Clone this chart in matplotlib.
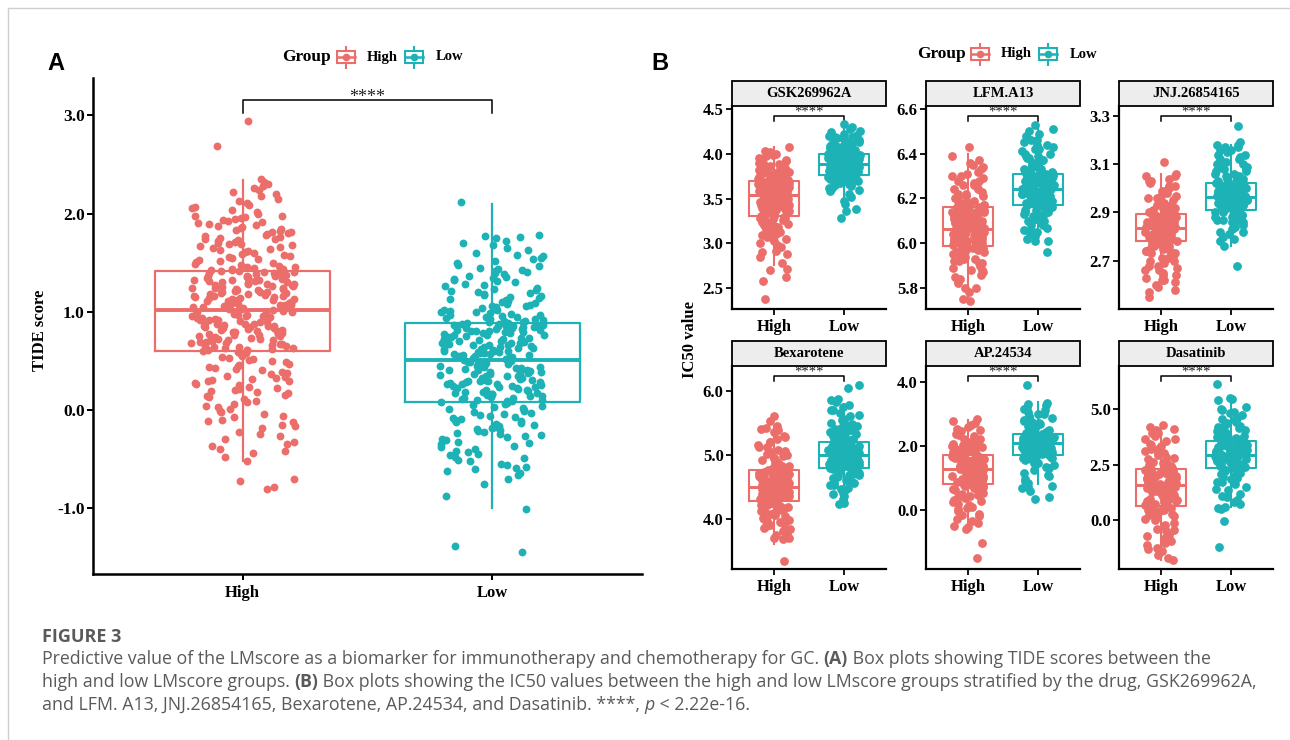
import numpy as np
import matplotlib
matplotlib.use("Agg")
import matplotlib.pyplot as plt
import matplotlib.transforms as mtransforms
from matplotlib.patches import Rectangle
from matplotlib.lines import Line2D

HIGH_COL = "#EC6E6B"
LOW_COL = "#1DB3B6"
SERIF = ["Liberation Serif", "DejaVu Serif"]
CAP_FONT = ["Open Sans", "DejaVu Sans"]
CAP_COL = "#5a5a5a"

groups = ["High", "Low"]

# ---------- panel A: TIDE score ----------
tide_high = [
    2.94, 2.69, 2.35, 2.32, 2.28, 2.26, 2.22, 2.20, 2.13, 2.11, 2.06, 2.04, 2.02, 1.97, 1.95, 1.93,
    1.91, 1.89, 1.87, 1.85, 1.83, 1.82, 1.80, 1.79, 1.78, 1.76, 1.75, 1.73, 1.72, 1.71, 1.69, 1.68,
    1.66, 1.65, 1.64, 1.62, 1.61, 1.60, 1.58, 1.57, 1.56, 1.55, 1.53, 1.52, 1.51, 1.50, 1.48, 1.47,
    1.46, 1.45, 1.44, 1.43, 1.42, 1.41, 1.40, 1.40, 1.39, 1.38, 1.37, 1.36, 1.36, 1.35, 1.34, 1.33,
    1.32, 1.32, 1.31, 1.30, 1.29, 1.28, 1.28, 1.27, 1.26, 1.25, 1.24, 1.24, 1.23, 1.22, 1.21, 1.20,
    1.20, 1.19, 1.18, 1.17, 1.16, 1.16, 1.15, 1.14, 1.13, 1.12, 1.12, 1.11, 1.10, 1.09, 1.08, 1.08,
    1.07, 1.06, 1.05, 1.04, 1.04, 1.03, 1.01, 1.00, 0.99, 0.98, 0.97, 0.97, 0.96, 0.95, 0.94, 0.93,
    0.92, 0.91, 0.90, 0.89, 0.88, 0.87, 0.86, 0.85, 0.84, 0.83, 0.82, 0.81, 0.80, 0.79, 0.78, 0.77,
    0.76, 0.75, 0.74, 0.73, 0.72, 0.71, 0.70, 0.69, 0.68, 0.67, 0.66, 0.65, 0.64, 0.63, 0.62, 0.61,
    0.61, 0.60, 0.59, 0.57, 0.55, 0.53, 0.51, 0.49, 0.47, 0.45, 0.43, 0.41, 0.39, 0.37, 0.35, 0.33,
    0.31, 0.29, 0.27, 0.25, 0.23, 0.21, 0.19, 0.17, 0.15, 0.13, 0.11, 0.08, 0.06, 0.03, 0.01, -0.02,
    -0.04, -0.07, -0.10, -0.12, -0.15, -0.18, -0.22, -0.26, -0.30, -0.33, -0.37, -0.40, -0.44, -0.48,
    -0.52, -0.70, -0.72, -0.78, -0.80,
    2.30, 2.24, 2.18, 2.15, 2.09, 2.07, 2.00, 1.98, 1.96, 1.94, 1.92, 1.90, 1.88, 1.86, 1.84, 1.81,
    1.77, 1.74, 1.70, 1.67, 1.63, 1.59, 1.54, 1.49, 1.46, 1.44, 1.43, 1.74, 1.81, 1.69, 1.415, 1.395,
    1.385, 1.365, 1.345, 1.325, 1.305, 1.285, 1.265, 1.245, 1.225, 1.205, 1.185, 1.165, 1.145, 1.125,
    1.105, 1.085, 1.065, 1.045, 1.025, 1.35, 1.27, 1.19, 1.11, 1.31, 1.23, 1.15, 1.07, 1.39, 1.015,
    0.995, 0.975, 0.955, 0.935, 0.915, 0.895, 0.875, 0.855, 0.835, 0.815, 0.795, 0.775, 0.755, 0.735,
    0.715, 0.695, 0.675, 0.655, 0.635, 0.615, 0.96, 0.88, 0.80, 0.72, 0.64, 0.92, 0.84, 0.76, 0.68,
    0.58, 0.54, 0.50, 0.46, 0.42, 0.38, 0.34, 0.30, 0.26, 0.22, 0.18, 0.14, 0.09, 0.04, -0.01, -0.06,
    -0.11, -0.16, -0.24, -0.35, -0.42, 0.52, 0.44, 0.32, 0.20,
]
tide_low = [
    2.12, 1.78, 1.77, 1.75, 1.72, 1.68, 1.63, 1.58, 1.57, 1.55, 1.52, 1.50, 1.47, 1.45, 1.42, 1.40,
    1.38, 1.36, 1.34, 1.32, 1.30, 1.28, 1.26, 1.24, 1.22, 1.20, 1.18, 1.16, 1.15, 1.14, 1.12, 1.11,
    1.10, 1.08, 1.07, 1.06, 1.05, 1.04, 1.02, 1.01, 1.00, 0.99, 0.98, 0.97, 0.96, 0.95, 0.94, 0.93,
    0.92, 0.91, 0.90, 0.89, 0.88, 0.87, 0.86, 0.86, 0.85, 0.84, 0.83, 0.82, 0.81, 0.80, 0.80, 0.79,
    0.78, 0.77, 0.76, 0.75, 0.74, 0.73, 0.73, 0.72, 0.71, 0.70, 0.69, 0.68, 0.67, 0.66, 0.66, 0.65,
    0.64, 0.63, 0.62, 0.61, 0.60, 0.59, 0.59, 0.58, 0.57, 0.56, 0.55, 0.54, 0.53, 0.52, 0.52, 0.50,
    0.49, 0.48, 0.47, 0.46, 0.45, 0.44, 0.43, 0.42, 0.41, 0.40, 0.39, 0.38, 0.37, 0.36, 0.35, 0.34,
    0.33, 0.32, 0.31, 0.30, 0.29, 0.28, 0.27, 0.26, 0.25, 0.24, 0.23, 0.22, 0.21, 0.20, 0.19, 0.18,
    0.17, 0.16, 0.15, 0.14, 0.13, 0.12, 0.11, 0.10, 0.09, 0.08, 0.06, 0.05, 0.03, 0.01, -0.01, -0.03,
    -0.05, -0.07, -0.09, -0.11, -0.13, -0.15, -0.17, -0.19, -0.21, -0.23, -0.25, -0.28, -0.30, -0.33,
    -0.35, -0.38, -0.40, -0.43, -0.46, -0.49, -0.52, -0.55, -0.58, -0.60, -0.62, -0.66, -0.75, -0.88,
    -1.01, -1.38, -1.45,
    1.76, 1.70, 1.65, 1.60, 1.54, 1.48, 1.43, 1.39, 1.35, 1.31, 1.27, 1.23, 1.19, 1.17, 1.13, 1.09,
    1.06, 1.03, 1.00, 0.97, 0.95, 0.93, 0.91, 0.90, 1.21, 1.33, 1.44, 1.02, 0.885, 0.875, 0.865,
    0.855, 0.845, 0.835, 0.825, 0.815, 0.805, 0.785, 0.765, 0.745, 0.725, 0.705, 0.685, 0.665, 0.645,
    0.625, 0.605, 0.585, 0.565, 0.545, 0.525, 0.515, 0.84, 0.76, 0.68, 0.60, 0.56, 0.79, 0.71, 0.63,
    0.505, 0.485, 0.465, 0.445, 0.425, 0.405, 0.385, 0.365, 0.345, 0.325, 0.305, 0.285, 0.265, 0.245,
    0.225, 0.205, 0.185, 0.165, 0.145, 0.125, 0.105, 0.095, 0.47, 0.41, 0.35, 0.29, 0.23, 0.17, 0.44,
    0.38, 0.26, 0.14, 0.07, 0.04, 0.02, 0.00, -0.02, -0.04, -0.06, -0.08, -0.10, -0.12, -0.14, -0.16,
    -0.18, -0.20, -0.22, -0.24, -0.27, -0.31, -0.34, -0.37, -0.42, -0.45, -0.48, -0.51, -0.56, -0.59,
    -0.64, -0.70,
]
# box stats: q1, median, q3, lower whisker, upper whisker
tide_box_high = [0.60, 1.02, 1.42, -0.52, 2.34]
tide_box_low = [0.085, 0.51, 0.89, -1.00, 2.10]
tide_ticks = [-1.0, 0.0, 1.0, 2.0, 3.0]

# ---------- panel B: IC50 per drug ----------
drugs = ["GSK269962A", "LFM.A13", "JNJ.26854165", "Bexarotene", "AP.24534", "Dasatinib"]

gsk_high = [
    2.38, 2.58, 2.63, 2.70, 2.72, 2.78, 2.85, 2.88, 2.92, 2.96, 3.00, 3.03, 3.07, 3.10, 3.13, 3.16,
    3.19, 3.21, 3.24, 3.26, 3.28, 3.30, 3.32, 3.33, 3.35, 3.36, 3.37, 3.38, 3.40, 3.41, 3.42, 3.43,
    3.44, 3.45, 3.46, 3.47, 3.48, 3.49, 3.50, 3.51, 3.52, 3.52, 3.53, 3.53, 3.55, 3.55, 3.56, 3.57,
    3.57, 3.58, 3.59, 3.59, 3.60, 3.61, 3.62, 3.62, 3.63, 3.64, 3.64, 3.65, 3.66, 3.66, 3.67, 3.68,
    3.68, 3.69, 3.70, 3.71, 3.72, 3.73, 3.74, 3.75, 3.76, 3.78, 3.79, 3.80, 3.82, 3.83, 3.85, 3.87,
    3.88, 3.90, 3.92, 3.95, 3.98, 4.00, 4.03, 4.07,
    2.90, 2.98, 3.05, 3.09, 3.12, 3.15, 3.18, 3.20, 3.22, 3.23, 3.25, 3.27, 3.29, 3.31, 3.32, 3.34,
    3.35, 3.37, 3.39, 3.40, 3.42, 3.43, 3.45, 3.46, 3.48, 3.49, 3.50, 3.51, 3.52, 3.54, 3.54, 3.55,
    3.56, 3.57, 3.58, 3.60, 3.61, 3.62, 3.63, 3.65, 3.66, 3.67, 3.69, 3.70, 3.72, 3.74, 3.76, 3.78,
    3.81, 3.84, 3.86, 3.89, 3.93, 3.97, 4.02, 3.36, 3.44, 3.47, 3.53, 3.59, 3.63, 3.68, 3.71, 3.77,
    3.28, 3.18, 3.05,
]
gsk_low = [
    3.28, 3.36, 3.38, 3.44, 3.47, 3.52, 3.55, 3.58, 3.60, 3.62, 3.64, 3.66, 3.67, 3.68, 3.69, 3.70,
    3.71, 3.72, 3.73, 3.74, 3.75, 3.75, 3.76, 3.77, 3.77, 3.78, 3.79, 3.79, 3.80, 3.81, 3.81, 3.82,
    3.83, 3.83, 3.84, 3.84, 3.85, 3.85, 3.86, 3.86, 3.87, 3.87, 3.88, 3.88, 3.89, 3.89, 3.90, 3.90,
    3.91, 3.91, 3.92, 3.92, 3.93, 3.93, 3.94, 3.94, 3.95, 3.95, 3.96, 3.96, 3.97, 3.97, 3.98, 3.98,
    3.99, 4.00, 4.01, 4.02, 4.03, 4.04, 4.05, 4.06, 4.07, 4.08, 4.09, 4.10, 4.11, 4.12, 4.13, 4.14,
    4.15, 4.17, 4.18, 4.20, 4.22, 4.25, 4.30, 4.33,
    3.62, 3.66, 3.69, 3.71, 3.72, 3.73, 3.74, 3.75, 3.76, 3.77, 3.78, 3.78, 3.79, 3.80, 3.80, 3.81,
    3.82, 3.82, 3.83, 3.84, 3.85, 3.85, 3.86, 3.87, 3.87, 3.88, 3.89, 3.89, 3.90, 3.90, 3.91, 3.92,
    3.92, 3.93, 3.94, 3.94, 3.95, 3.96, 3.96, 3.97, 3.98, 3.99, 3.99, 4.00, 4.01, 4.02, 4.03, 4.05,
    4.06, 4.08, 4.10, 4.12, 4.14, 4.16, 4.19, 4.21, 4.24, 4.27, 3.81, 3.84, 3.86, 3.91, 3.93, 3.95,
    3.97, 3.70, 3.65,
]
lfm_high = [
    5.74, 5.75, 5.78, 5.80, 5.82, 5.84, 5.85, 5.87, 5.88, 5.90, 5.91, 5.92, 5.93, 5.94, 5.95, 5.96,
    5.96, 5.97, 5.98, 5.98, 5.99, 5.99, 6.00, 6.00, 6.01, 6.01, 6.02, 6.02, 6.03, 6.03, 6.03, 6.04,
    6.04, 6.05, 6.05, 6.05, 6.06, 6.06, 6.06, 6.06, 6.06, 6.07, 6.07, 6.07, 6.07, 6.08, 6.08, 6.09,
    6.09, 6.10, 6.10, 6.11, 6.11, 6.12, 6.12, 6.13, 6.13, 6.14, 6.14, 6.14, 6.15, 6.15, 6.15, 6.16,
    6.16, 6.16, 6.17, 6.18, 6.19, 6.20, 6.21, 6.22, 6.23, 6.24, 6.25, 6.26, 6.27, 6.28, 6.29, 6.30,
    6.30, 6.32, 6.34, 6.35, 6.37, 6.39, 6.43,
    5.80, 5.83, 5.86, 5.89, 5.91, 5.93, 5.94, 5.95, 5.96, 5.97, 5.98, 5.99, 6.00, 6.01, 6.01, 6.02,
    6.02, 6.03, 6.03, 6.04, 6.04, 6.05, 6.05, 6.06, 6.06, 6.07, 6.07, 6.08, 6.08, 6.09, 6.09, 6.10,
    6.10, 6.11, 6.11, 6.12, 6.12, 6.13, 6.13, 6.14, 6.15, 6.15, 6.16, 6.17, 6.18, 6.19, 6.20, 6.21,
    6.22, 6.24, 6.26, 6.28, 6.31, 6.33, 6.36, 5.97, 6.00, 6.04, 6.08, 6.12, 6.02, 6.06, 6.10, 5.92,
    5.88,
]
lfm_low = [
    5.96, 6.01, 6.01, 6.02, 6.04, 6.05, 6.06, 6.07, 6.08, 6.09, 6.10, 6.11, 6.12, 6.13, 6.13, 6.14,
    6.15, 6.15, 6.16, 6.16, 6.17, 6.17, 6.18, 6.18, 6.19, 6.19, 6.20, 6.20, 6.21, 6.21, 6.21, 6.22,
    6.22, 6.22, 6.23, 6.23, 6.23, 6.24, 6.24, 6.24, 6.24, 6.25, 6.25, 6.25, 6.26, 6.26, 6.26, 6.27,
    6.27, 6.27, 6.28, 6.28, 6.28, 6.29, 6.29, 6.29, 6.30, 6.30, 6.30, 6.31, 6.31, 6.32, 6.32, 6.33,
    6.34, 6.35, 6.36, 6.37, 6.38, 6.39, 6.40, 6.41, 6.42, 6.43, 6.44, 6.45, 6.46, 6.47, 6.48, 6.50,
    6.51, 6.53,
    6.03, 6.06, 6.08, 6.10, 6.11, 6.12, 6.13, 6.14, 6.15, 6.16, 6.17, 6.18, 6.18, 6.19, 6.20, 6.20,
    6.21, 6.21, 6.22, 6.22, 6.23, 6.23, 6.24, 6.24, 6.25, 6.25, 6.26, 6.26, 6.27, 6.27, 6.28, 6.28,
    6.29, 6.29, 6.30, 6.30, 6.31, 6.32, 6.33, 6.34, 6.35, 6.36, 6.37, 6.38, 6.39, 6.40, 6.42, 6.44,
    6.46, 6.49, 6.20, 6.22, 6.24, 6.26, 6.28, 6.19, 6.23, 6.27, 6.31, 6.33,
]
jnj_high = [
    2.55, 2.57, 2.58, 2.60, 2.61, 2.62, 2.63, 2.64, 2.65, 2.66, 2.67, 2.68, 2.69, 2.70, 2.71, 2.72,
    2.73, 2.74, 2.75, 2.76, 2.77, 2.77, 2.78, 2.78, 2.79, 2.79, 2.79, 2.80, 2.80, 2.80, 2.81, 2.81,
    2.81, 2.82, 2.82, 2.82, 2.82, 2.83, 2.83, 2.83, 2.83, 2.83, 2.84, 2.84, 2.84, 2.85, 2.85, 2.85,
    2.86, 2.86, 2.86, 2.87, 2.87, 2.87, 2.88, 2.88, 2.88, 2.89, 2.89, 2.89, 2.89, 2.90, 2.91, 2.92,
    2.93, 2.94, 2.95, 2.96, 2.97, 2.98, 2.99, 3.00, 3.01, 3.02, 3.03, 3.04, 3.05, 3.06, 3.11,
    2.59, 2.62, 2.64, 2.66, 2.68, 2.70, 2.71, 2.72, 2.73, 2.74, 2.75, 2.76, 2.77, 2.78, 2.78, 2.79,
    2.79, 2.80, 2.80, 2.81, 2.81, 2.82, 2.82, 2.83, 2.83, 2.84, 2.84, 2.85, 2.85, 2.86, 2.86, 2.87,
    2.87, 2.88, 2.88, 2.89, 2.89, 2.90, 2.90, 2.91, 2.92, 2.93, 2.94, 2.95, 2.96, 2.97, 2.99, 3.01,
    3.03, 3.05, 2.80, 2.82, 2.84, 2.86, 2.88, 2.81, 2.85, 2.76, 2.74, 2.92,
]
jnj_low = [
    2.68, 2.76, 2.78, 2.80, 2.81, 2.82, 2.83, 2.84, 2.85, 2.86, 2.87, 2.87, 2.88, 2.88, 2.89, 2.89,
    2.90, 2.90, 2.91, 2.91, 2.92, 2.92, 2.92, 2.93, 2.93, 2.93, 2.94, 2.94, 2.94, 2.95, 2.95, 2.95,
    2.96, 2.96, 2.96, 2.96, 2.97, 2.97, 2.97, 2.98, 2.98, 2.98, 2.99, 2.99, 2.99, 3.00, 3.00, 3.00,
    3.01, 3.01, 3.01, 3.02, 3.02, 3.02, 3.03, 3.04, 3.05, 3.06, 3.07, 3.08, 3.09, 3.10, 3.11, 3.12,
    3.13, 3.14, 3.15, 3.16, 3.17, 3.18, 3.19, 3.26,
    2.79, 2.82, 2.84, 2.86, 2.87, 2.88, 2.89, 2.90, 2.91, 2.91, 2.92, 2.92, 2.93, 2.93, 2.94, 2.94,
    2.95, 2.95, 2.96, 2.96, 2.97, 2.97, 2.98, 2.98, 2.99, 2.99, 3.00, 3.00, 3.01, 3.01, 3.02, 3.02,
    3.03, 3.04, 3.05, 3.06, 3.07, 3.08, 3.09, 3.10, 3.12, 3.14, 3.16, 3.17, 3.18, 2.93, 2.95, 2.97,
    2.99, 3.01, 2.94, 2.96, 2.98, 3.00, 2.90,
]
bex_high = [
    3.33, 3.68, 3.70, 3.75, 3.80, 3.84, 3.88, 3.92, 3.95, 3.98, 4.01, 4.04, 4.07, 4.10, 4.13, 4.16,
    4.19, 4.21, 4.23, 4.25, 4.27, 4.29, 4.30, 4.31, 4.32, 4.33, 4.35, 4.36, 4.37, 4.38, 4.39, 4.40,
    4.41, 4.42, 4.43, 4.44, 4.45, 4.46, 4.47, 4.48, 4.49, 4.51, 4.52, 4.53, 4.54, 4.55, 4.57, 4.58,
    4.59, 4.60, 4.62, 4.63, 4.64, 4.66, 4.67, 4.68, 4.70, 4.71, 4.72, 4.74, 4.75, 4.77, 4.80, 4.83,
    4.86, 4.89, 4.92, 4.95, 4.98, 5.01, 5.05, 5.08, 5.12, 5.16, 5.20, 5.25, 5.30, 5.35, 5.40, 5.45,
    5.53, 5.60,
    3.70, 3.78, 3.85, 3.90, 3.96, 4.00, 4.05, 4.09, 4.12, 4.15, 4.18, 4.20, 4.22, 4.24, 4.26, 4.28,
    4.30, 4.32, 4.34, 4.36, 4.38, 4.40, 4.42, 4.44, 4.46, 4.48, 4.50, 4.52, 4.54, 4.56, 4.58, 4.60,
    4.62, 4.64, 4.66, 4.68, 4.70, 4.73, 4.76, 4.79, 4.82, 4.85, 4.90, 4.95, 5.00, 5.06, 5.12, 5.20,
    5.28, 5.38, 5.42, 4.35, 4.41, 4.47, 4.53, 4.59, 4.65, 4.39, 4.57, 4.14,
]
bex_low = [
    4.23, 4.25, 4.30, 4.35, 4.40, 4.44, 4.48, 4.52, 4.55, 4.58, 4.61, 4.63, 4.66, 4.68, 4.70, 4.72,
    4.74, 4.76, 4.78, 4.80, 4.81, 4.82, 4.83, 4.84, 4.85, 4.86, 4.87, 4.88, 4.89, 4.90, 4.91, 4.92,
    4.93, 4.94, 4.95, 4.96, 4.97, 4.98, 5.00, 5.01, 5.02, 5.03, 5.04, 5.05, 5.06, 5.07, 5.08, 5.09,
    5.10, 5.11, 5.12, 5.13, 5.14, 5.15, 5.16, 5.17, 5.19, 5.21, 5.23, 5.25, 5.28, 5.30, 5.33, 5.36,
    5.39, 5.42, 5.45, 5.48, 5.52, 5.56, 5.60, 5.65, 5.70, 5.78, 5.85, 5.88, 6.05, 6.10,
    4.28, 4.38, 4.46, 4.52, 4.57, 4.61, 4.65, 4.68, 4.71, 4.74, 4.77, 4.79, 4.81, 4.83, 4.85, 4.87,
    4.89, 4.91, 4.93, 4.95, 4.97, 4.99, 5.01, 5.03, 5.05, 5.07, 5.09, 5.11, 5.13, 5.15, 5.17, 5.19,
    5.21, 5.24, 5.27, 5.31, 5.35, 5.40, 5.45, 5.50, 5.55, 5.62, 5.70, 5.75, 5.82, 4.90, 4.94, 4.98,
    5.02, 5.06, 5.10, 4.86, 5.14, 5.22, 4.72,
]
ap_high = [
    -1.50, -1.05, -0.60, -0.50, -0.40, -0.30, -0.20, -0.12, -0.05, 0.02, 0.10, 0.18, 0.25, 0.32,
    0.40, 0.46, 0.52, 0.58, 0.64, 0.70, 0.75, 0.80, 0.82, 0.85, 0.88, 0.90, 0.93, 0.95, 0.98, 1.00,
    1.02, 1.05, 1.07, 1.10, 1.12, 1.14, 1.17, 1.19, 1.21, 1.23, 1.25, 1.27, 1.29, 1.31, 1.33, 1.35,
    1.37, 1.40, 1.42, 1.44, 1.46, 1.49, 1.51, 1.53, 1.55, 1.58, 1.60, 1.62, 1.65, 1.67, 1.70, 1.73,
    1.77, 1.81, 1.85, 1.89, 1.93, 1.97, 2.01, 2.05, 2.10, 2.15, 2.20, 2.25, 2.30, 2.38, 2.45, 2.52,
    2.60, 2.70, 2.78, 2.82,
    -0.55, -0.35, -0.15, 0.05, 0.15, 0.28, 0.36, 0.44, 0.50, 0.56, 0.62, 0.68, 0.73, 0.78, 0.83,
    0.87, 0.91, 0.96, 1.01, 1.04, 1.08, 1.11, 1.15, 1.18, 1.22, 1.26, 1.30, 1.34, 1.38, 1.41, 1.45,
    1.48, 1.52, 1.56, 1.59, 1.63, 1.66, 1.69, 1.75, 1.79, 1.83, 1.88, 1.95, 2.03, 2.12, 2.22, 2.35,
    2.48, 2.65, 0.95, 1.05, 1.20, 1.36, 1.50, 1.00, 1.28, 1.60, 0.70, 2.00,
]
ap_low = [
    0.35, 0.40, 0.60, 0.68, 0.75, 0.85, 0.95, 1.05, 1.15, 1.25, 1.33, 1.40, 1.46, 1.52, 1.57, 1.62,
    1.66, 1.70, 1.72, 1.74, 1.76, 1.78, 1.80, 1.82, 1.84, 1.86, 1.88, 1.90, 1.92, 1.94, 1.96, 1.98,
    2.00, 2.02, 2.04, 2.06, 2.08, 2.10, 2.11, 2.13, 2.15, 2.17, 2.18, 2.20, 2.22, 2.23, 2.25, 2.27,
    2.29, 2.30, 2.32, 2.34, 2.35, 2.37, 2.40, 2.44, 2.48, 2.52, 2.56, 2.60, 2.65, 2.70, 2.75, 2.80,
    2.86, 2.92, 2.98, 3.05, 3.12, 3.20, 3.28, 3.35, 3.90,
    0.70, 0.90, 1.10, 1.30, 1.45, 1.55, 1.62, 1.68, 1.73, 1.77, 1.81, 1.85, 1.89, 1.93, 1.97, 2.01,
    2.05, 2.09, 2.12, 2.16, 2.19, 2.21, 2.24, 2.26, 2.28, 2.31, 2.33, 2.36, 2.39, 2.42, 2.46, 2.50,
    2.55, 2.62, 2.68, 2.78, 2.90, 3.00, 3.15, 3.30, 1.95, 2.03, 2.14, 2.27, 1.87, 2.10, 2.20, 1.80,
    2.35, 2.00,
]
das_high = [
    -1.80, -1.55, -1.40, -1.25, -1.10, -0.95, -0.80, -0.65, -0.50, -0.38, -0.25, -0.12, 0.00, 0.10,
    0.20, 0.30, 0.40, 0.48, 0.56, 0.62, 0.68, 0.73, 0.78, 0.83, 0.88, 0.93, 0.98, 1.03, 1.08, 1.13,
    1.18, 1.23, 1.28, 1.33, 1.38, 1.43, 1.48, 1.53, 1.56, 1.62, 1.66, 1.70, 1.74, 1.78, 1.82, 1.86,
    1.90, 1.94, 1.98, 2.02, 2.06, 2.10, 2.14, 2.18, 2.22, 2.26, 2.29, 2.35, 2.42, 2.50, 2.58, 2.66,
    2.75, 2.84, 2.93, 3.02, 3.12, 3.22, 3.32, 3.43, 3.55, 3.67, 3.80, 3.92, 4.05, 4.20, 4.30,
    -1.70, -1.30, -1.00, -0.70, -0.45, -0.20, 0.05, 0.25, 0.45, 0.60, 0.72, 0.85, 0.95, 1.05, 1.15,
    1.25, 1.35, 1.45, 1.55, 1.60, 1.68, 1.76, 1.84, 1.92, 2.00, 2.08, 2.16, 2.24, 2.32, 2.45, 2.60,
    2.80, 3.00, 3.20, 3.40, 3.65, 3.90, 4.10, 0.80, 1.00, 1.20, 1.40, 1.65, 1.88, 2.12, 0.90, 1.30,
    1.72, 2.20, 0.35,
]
das_low = [
    -1.20, -0.05, 0.50, 0.60, 0.75, 0.90, 1.05, 1.20, 1.35, 1.50, 1.62, 1.74, 1.85, 1.95, 2.05, 2.13,
    2.21, 2.28, 2.34, 2.38, 2.42, 2.46, 2.49, 2.52, 2.55, 2.58, 2.61, 2.64, 2.67, 2.70, 2.73, 2.76,
    2.79, 2.82, 2.85, 2.88, 2.91, 2.96, 3.00, 3.04, 3.08, 3.12, 3.16, 3.20, 3.24, 3.28, 3.32, 3.36,
    3.40, 3.44, 3.48, 3.52, 3.55, 3.60, 3.66, 3.72, 3.78, 3.85, 3.92, 3.99, 4.06, 4.14, 4.22, 4.30,
    4.40, 4.50, 4.60, 4.72, 4.85, 4.95, 5.10, 5.45, 5.50, 6.10,
    0.55, 0.80, 1.10, 1.40, 1.70, 1.90, 2.10, 2.25, 2.40, 2.50, 2.60, 2.68, 2.75, 2.83, 2.90, 2.98,
    3.06, 3.14, 3.22, 3.30, 3.38, 3.46, 3.54, 3.62, 3.75, 3.88, 4.02, 4.18, 4.35, 4.55, 4.80, 5.00,
    5.40, 2.45, 2.65, 2.85, 3.05, 3.25, 3.45, 2.55, 2.95, 3.35, 3.10, 3.70, 2.20,
]

# box stats: q1, median, q3, lower whisker, upper whisker
gsk_box_high = [3.31, 3.54, 3.69, 2.76, 4.07]
gsk_box_low = [3.76, 3.88, 4.00, 3.45, 4.33]
lfm_box_high = [5.987, 6.065, 6.16, 5.75, 6.40]
lfm_box_low = [6.17, 6.24, 6.31, 6.00, 6.52]
jnj_box_high = [2.78, 2.835, 2.895, 2.61, 3.06]
jnj_box_low = [2.91, 2.965, 3.02, 2.76, 3.18]
bex_box_high = [4.28, 4.50, 4.754, 3.60, 5.45]
bex_box_low = [4.79, 4.99, 5.20, 4.23, 5.80]
ap_box_high = [0.79, 1.26, 1.71, -0.60, 2.80]
ap_box_low = [1.71, 2.07, 2.38, 0.80, 3.38]
das_box_high = [0.64, 1.58, 2.30, -1.80, 4.30]
das_box_low = [2.36, 2.93, 3.56, 0.60, 5.30]

gsk_ticks = [2.5, 3.0, 3.5, 4.0, 4.5]
lfm_ticks = [5.8, 6.0, 6.2, 6.4, 6.6]
jnj_ticks = [2.7, 2.9, 3.1, 3.3]
bex_ticks = [4.0, 5.0, 6.0]
ap_ticks = [0.0, 2.0, 4.0]
das_ticks = [0.0, 2.5, 5.0]

plt.rcParams["font.family"] = SERIF
plt.rcParams["font.weight"] = "bold"

W, H = 1290, 740
fig = plt.figure(figsize=(W / 100, H / 100), dpi=100)


def px_axes(left, top, right, bottom):
    return fig.add_axes([left / W, 1 - bottom / H, (right - left) / W, (bottom - top) / H])


def draw_groups(ax, vals_hi, vals_lo, box_hi, box_lo, width, jw, size, lw, med_lw, seed):
    for pos, b, col in zip([1, 2], [box_hi, box_lo], [HIGH_COL, LOW_COL]):
        st = dict(q1=b[0], med=b[1], q3=b[2], whislo=b[3], whishi=b[4], fliers=[])
        ax.bxp([st], positions=[pos], widths=width, showcaps=False, showfliers=False,
               boxprops=dict(color=col, lw=lw), whiskerprops=dict(color=col, lw=lw),
               medianprops=dict(color=col, lw=med_lw, solid_capstyle="butt"),
               manage_ticks=False, zorder=2)
    for k, (vals, col) in enumerate([(vals_hi, HIGH_COL), (vals_lo, LOW_COL)]):
        v = np.asarray(vals)
        idx = np.arange(len(v))
        u = np.modf(np.abs(np.sin(idx * 12.9898 + seed + k * 7.13)) * 43758.5453)[0]
        ax.scatter(k + 1 + (u - 0.5) * 2 * jw, v, s=size, color=col, linewidths=0, zorder=3)


def style(ax, ticks, ylim, fs, spine_w):
    for s in ["top", "right"]:
        ax.spines[s].set_visible(False)
    for s in ["left", "bottom"]:
        ax.spines[s].set_linewidth(spine_w)
    ax.set_xlim(0.4, 2.6)
    ax.set_ylim(*ylim)
    ax.set_xticks([1, 2])
    ax.set_xticklabels(groups)
    ax.set_yticks(ticks)
    ax.set_yticklabels([f"{t:.1f}" for t in ticks])
    ax.tick_params(width=spine_w * 0.8, length=4, labelsize=fs, pad=2, colors="black")


def bracket(ax, y0, y1, fs):
    tr = mtransforms.blended_transform_factory(ax.transData, ax.transAxes)
    ax.plot([1, 1, 2, 2], [y1, y0, y0, y1], color="black", lw=1.1, transform=tr, clip_on=False)
    ax.text(1.5, y0 - 0.012, "****", transform=tr, ha="center", va="bottom", fontsize=fs,
            color="#222222", fontweight="normal")


# ---- panel A ----
axA = px_axes(93, 78, 642, 574)
draw_groups(axA, tide_high, tide_low, tide_box_high, tide_box_low, 0.70, 0.21, 32, 1.6, 2.8, 1.0)
style(axA, tide_ticks, (-1.67, 3.38), 12.5, 1.8)
axA.tick_params(axis="x", pad=4, labelsize=12)
bracket(axA, 0.956, 0.929, 13)
fig.text(40 / W, 1 - 330 / H, "TIDE score", rotation=90, ha="center", va="center", fontsize=12)
fig.text(47 / W, 1 - 63 / H, "A", family=["Liberation Sans", "DejaVu Sans"], fontsize=17,
         fontweight="bold", ha="left", va="center")
fig.text(651 / W, 1 - 63 / H, "B", family=["Liberation Sans", "DejaVu Sans"], fontsize=17,
         fontweight="bold", ha="left", va="center")

# ---- panel B ----
panel_data = [
    (gsk_high, gsk_low, gsk_box_high, gsk_box_low, gsk_ticks, (2.27, 4.53)),
    (lfm_high, lfm_low, lfm_box_high, lfm_box_low, lfm_ticks, (5.706, 6.613)),
    (jnj_high, jnj_low, jnj_box_high, jnj_box_low, jnj_ticks, (2.50, 3.341)),
    (bex_high, bex_low, bex_box_high, bex_box_low, bex_ticks, (3.21, 6.39)),
    (ap_high, ap_low, ap_box_high, ap_box_low, ap_ticks, (-1.85, 4.49)),
    (das_high, das_low, das_box_high, das_box_low, das_ticks, (-2.19, 6.93)),
]
col_left = [732, 926, 1119]
row_top = [106, 366]
pw, ph, strip_px = 154, 203, 25
for i, (name, pdat) in enumerate(zip(drugs, panel_data)):
    r, c = divmod(i, 3)
    ax = px_axes(col_left[c], row_top[r], col_left[c] + pw, row_top[r] + ph)
    vh, vl, bh, bl, ticks, ylim = pdat
    draw_groups(ax, vh, vl, bh, bl, 0.72, 0.23, 40, 1.5, 2.2, 3.0 + i)
    style(ax, ticks, ylim, 12, 1.6)
    ax.tick_params(axis="x", pad=3)
    sh = strip_px / ph
    ax.add_patch(Rectangle((0, 1.0), 1, sh, transform=ax.transAxes, facecolor="#EDEDED",
                           edgecolor="black", lw=1.3, clip_on=False, zorder=5))
    ax.text(0.5, 1 + sh / 2, name, transform=ax.transAxes, ha="center", va="center",
            fontsize=10.5, zorder=6)
    bracket(ax, 0.95, 0.925, 10.5)

fig.text(690 / W, 1 - 340 / H, "IC50 value", rotation=90, ha="center", va="center", fontsize=12)


# ---- legends ----
def legend_key(cx, cy, col):
    k = fig.add_axes([(cx - 10.5) / W, 1 - (cy + 11.5) / H, 21 / W, 23 / H])
    k.set_xlim(0, 1)
    k.set_ylim(0, 1)
    k.axis("off")
    k.add_patch(Rectangle((0.08, 0.22), 0.84, 0.56, facecolor="white", edgecolor=col, lw=1.5))
    k.plot([0.5, 0.5], [0.0, 0.22], color=col, lw=1.5)
    k.plot([0.5, 0.5], [0.78, 1.0], color=col, lw=1.5)
    k.plot([0.08, 0.92], [0.5, 0.5], color=col, lw=1.8)
    k.plot([0.5], [0.5], "o", color=col, ms=4.5)


def legend(x_group, x_high_key, x_low_key, y):
    fig.text(x_group / W, 1 - y / H, "Group", fontsize=12.5, ha="left", va="center")
    legend_key(x_high_key, y, HIGH_COL)
    fig.text((x_high_key + 21) / W, 1 - y / H, "High", fontsize=10.5, ha="left", va="center")
    legend_key(x_low_key, y, LOW_COL)
    fig.text((x_low_key + 22) / W, 1 - y / H, "Low", fontsize=10.5, ha="left", va="center")


legend(282, 346, 414, 57)
legend(917, 980, 1048, 54)

# ---- page frame ----
fig.add_artist(Line2D([8 / W, 1], [1 - 8 / H, 1 - 8 / H], color="#cfcfcf", lw=1.0))
fig.add_artist(Line2D([8 / W, 8 / W], [0, 1 - 8 / H], color="#cfcfcf", lw=1.0))

# ---- caption ----
renderer = fig.canvas.get_renderer()


def rich_line(x_px, y_px, parts, fs):
    x = x_px / W
    for txt, sty in parts:
        t = fig.text(x, 1 - y_px / H, txt, fontsize=fs, family=CAP_FONT, color=CAP_COL,
                     ha="left", va="center",
                     fontweight="bold" if sty == "b" else "normal",
                     fontstyle="italic" if sty == "i" else "normal")
        x += t.get_window_extent(renderer).width / W
    return x * W - x_px


cap_x = 42
line2 = [("high and low LMscore groups. ", "n"), ("(B)", "b"),
         (" Box plots showing the IC50 values between the high and low LMscore groups "
          "stratified by the drug, GSK269962A,", "n")]
# size the caption so that its second line spans the same width as in the figure
probe = fig.text(0, 0, "".join(p[0] for p in line2), fontsize=10, family=CAP_FONT,
                 fontweight="normal")
cap_fs = 10 * 1215 / probe.get_window_extent(renderer).width
probe.remove()

rich_line(cap_x, 637, [("FIGURE 3", "b")], 13)
rich_line(cap_x, 659, [("Predictive value of the LMscore as a biomarker for immunotherapy and "
                        "chemotherapy for GC. ", "n"), ("(A)", "b"),
                       (" Box plots showing TIDE scores between the", "n")], cap_fs)
rich_line(cap_x, 682, line2, cap_fs)
rich_line(cap_x, 705, [("and LFM. A13, JNJ.26854165, Bexarotene, AP.24534, and Dasatinib. ****, ",
                        "n"), ("p", "i"), (" < 2.22e-16.", "n")], cap_fs)

fig.savefig("out.png", dpi=100)
